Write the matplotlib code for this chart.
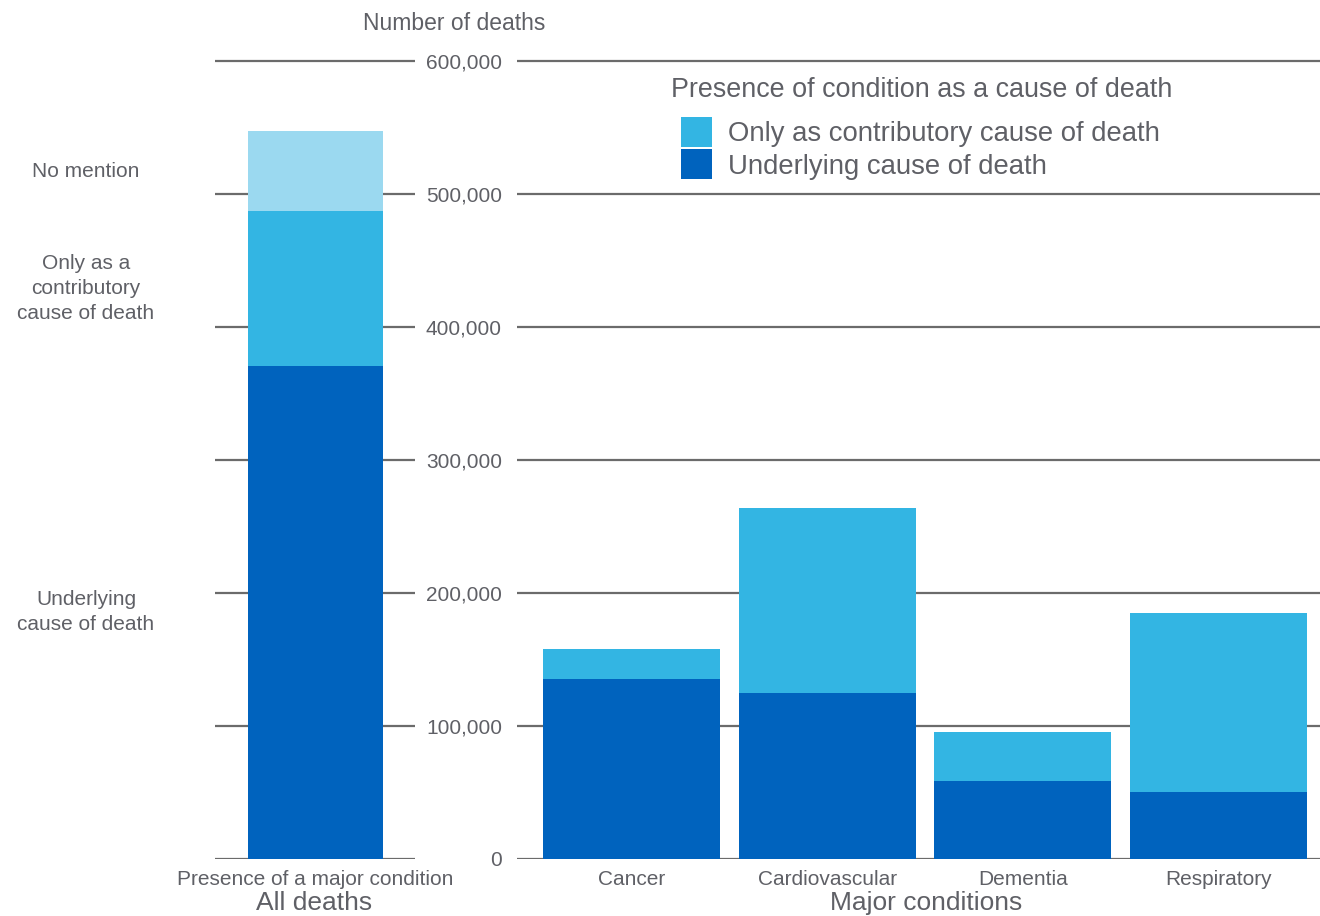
import matplotlib.pyplot as plt
import matplotlib.transforms as mtransforms

plt.rcParams['font.family'] = ['Liberation Sans', 'DejaVu Sans']

# data
all_cats = ['Presence of a major condition']
all_underlying = [371000]
all_contrib = [116000]
all_nomention = [60500]

conditions = ['Cancer', 'Cardiovascular', 'Dementia', 'Respiratory']
underlying = [135000, 125000, 59000, 50500]
contributory = [23000, 139000, 36500, 134500]

yticks = [0, 100000, 200000, 300000, 400000, 500000, 600000]
seg_labels = ['Underlying\ncause of death', 'Only as a\ncontributory\ncause of death', 'No mention']

dark = '#0063be'
mid = '#33b5e3'
light = '#9bd9f0'
txt = '#5f6066'
grid = '#6b6b6b'

W, H = 1320, 916
fig = plt.figure(figsize=(W / 100, H / 100), dpi=100)

ymax = 610000
top_px = 859 - ymax * 798 / 600000
ax_h = (859 - top_px) / H
axL = fig.add_axes([215 / W, 57 / H, 200 / W, ax_h])
axR = fig.add_axes([517 / W, 57 / H, 803 / W, ax_h])

for ax in (axL, axR):
    ax.set_ylim(0, ymax)
    ax.set_yticks(yticks)
    ax.yaxis.grid(True, color=grid, lw=1.6)
    ax.set_axisbelow(True)
    for s in ax.spines.values():
        s.set_visible(False)
    ax.tick_params(axis='both', length=0, colors=txt, labelsize=15)
    ax.tick_params(axis='x', pad=8)

# left panel
xl = range(len(all_cats))
axL.bar(xl, all_underlying, 0.675, color=dark)
axL.bar(xl, all_contrib, 0.675, bottom=all_underlying, color=mid)
b2 = [a + b for a, b in zip(all_underlying, all_contrib)]
axL.bar(xl, all_nomention, 0.675, bottom=b2, color=light)
axL.set_xlim(-0.5, 0.5)
axL.set_xticks(list(xl))
axL.set_xticklabels(all_cats)
axL.set_yticklabels([])

# segment labels at the middle of each piece
mids = [all_underlying[0] / 2,
        all_underlying[0] + all_contrib[0] / 2,
        b2[0] + all_nomention[0] / 2]
tr = mtransforms.blended_transform_factory(fig.transFigure, axL.transData)
for lab, m in zip(seg_labels, mids):
    axL.text(86 / W, m, lab, transform=tr, ha='center', va='center',
             fontsize=15, color=txt, linespacing=1.38)

# right panel
xr = range(len(conditions))
p1 = axR.bar(xr, underlying, 0.905, color=dark)
p2 = axR.bar(xr, contributory, 0.905, bottom=underlying, color=mid)
axR.set_xlim(-0.585, 3.519)
axR.set_xticks(list(xr))
axR.set_xticklabels(conditions)
axR.set_yticklabels(['{:,}'.format(v) for v in yticks])
axR.tick_params(axis='y', pad=10.8, labelsize=15)
for t in axR.get_yticklabels():
    t.set_horizontalalignment('right')

fig.text(454 / W, 1 - 23 / H, 'Number of deaths', ha='center', va='center',
         fontsize=16.5, color=txt)
fig.text(314 / W, 1 - 903 / H, 'All deaths', ha='center', va='center',
         fontsize=19, color=txt)
fig.text(926 / W, 1 - 903 / H, 'Major conditions', ha='center', va='center',
         fontsize=19, color=txt)

# legend title drawn separately
fig.text(671 / W, 1 - 90 / H, 'Presence of condition as a cause of death',
         ha='left', va='center', fontsize=19.4, color=txt)
leg = fig.legend([p2, p1], ['Only as contributory cause of death', 'Underlying cause of death'],
                 loc='upper left', bbox_to_anchor=(681 / W, 1 - 117 / H),
                 frameon=False, fontsize=19.8,
                 handlelength=1.13, handleheight=1.3, handletextpad=0.58,
                 labelspacing=0.08, borderpad=0, borderaxespad=0)
for t in leg.get_texts():
    t.set_color(txt)

fig.savefig('out.png', dpi=100)
